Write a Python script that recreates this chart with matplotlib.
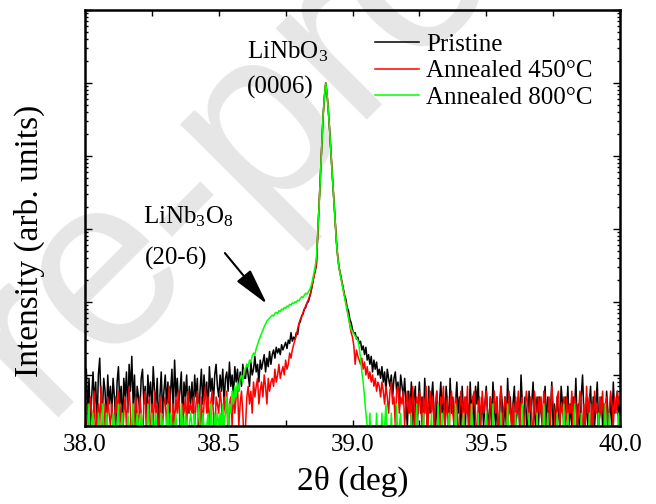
import numpy as np
import matplotlib
matplotlib.use("Agg")
import matplotlib.pyplot as plt
from matplotlib.ticker import MultipleLocator, LogLocator, NullFormatter

# scan grid: 2theta from 38.0 to 40.0 deg, 0.005 deg steps (401 points)
two_theta = np.linspace(38.0, 40.0, 401)

pristine = [
    6, 12, 3, 9, 2, 5, 11, 4, 8, 2, 10, 17, 4, 3, 9, 6, 2, 10, 4, 7,
    3, 9, 5, 2, 8, 13, 4, 7, 2, 9, 5, 11, 3, 14, 6, 18, 4, 10, 2, 7,
    5, 3, 9, 12, 4, 7, 2, 10, 5, 8, 3, 13, 6, 4, 9, 2, 5, 11, 3, 6,
    10, 4, 8, 2, 6, 12, 3, 16, 5, 9, 4, 6, 11, 2, 8, 5, 10, 3, 7, 4,
    8, 3, 10, 5, 9, 2, 6, 12, 4, 10, 5, 8, 3, 13, 6, 9, 4, 10, 14, 7,
    5, 10, 6, 12, 4, 9, 11, 6, 15, 7, 10, 5, 13, 8, 12, 6, 11, 7, 14, 9,
    9, 14, 10, 7, 15, 10, 12, 18, 11, 14, 8, 16, 12, 15, 19, 11, 17, 13, 21, 14,
    19, 22, 17, 24, 20, 23, 19, 26, 22, 25, 28, 23, 30, 27, 38, 29, 33, 31, 38, 36,
    50, 54, 65, 68, 80, 84, 97, 101, 118, 138, 172, 218, 260, 320, 813, 1950, 5250, 12900, 34700, 64600,
    100000, 69200, 39800, 20900, 10000, 5010, 2630, 1320, 661, 407, 295, 240, 195, 158, 125, 110, 84, 76, 58, 52,
    42, 37, 38, 31, 33, 27, 29, 22, 25, 19, 24, 16, 19, 14, 18, 11, 16, 12, 15, 10,
    12, 9, 13, 8, 11, 6, 12, 9, 7, 10, 5, 9, 11, 6, 8, 4, 10, 7, 5, 9,
    4, 2, 6, 3, 8, 2, 5, 7, 1, 4, 8, 3, 5, 2, 9, 4, 2, 7, 3, 5,
    8, 3, 2, 6, 1, 4, 8, 3, 5, 2, 7, 4, 2, 9, 3, 5, 2, 4, 8, 3,
    5, 2, 7, 3, 1, 5, 4, 2, 8, 3, 5, 2, 7, 4, 8, 2, 3, 5, 2, 4,
    7, 3, 2, 5, 2, 8, 4, 2, 5, 1, 3, 7, 4, 2, 5, 2, 9, 3, 5, 2,
    4, 7, 2, 3, 5, 2, 10, 4, 2, 5, 3, 1, 6, 2, 4, 8, 3, 2, 5, 2,
    5, 3, 2, 4, 7, 2, 5, 1, 3, 8, 2, 4, 2, 5, 3, 2, 7, 4, 2, 5,
    3, 7, 2, 4, 2, 5, 3, 9, 2, 4, 1, 5, 10, 3, 2, 5, 2, 4, 7, 2,
    5, 2, 4, 8, 2, 3, 5, 2, 4, 2, 6, 3, 2, 5, 2, 8, 3, 4, 6, 2,
    5,
]

annealed_450 = [
    3, 1, 4, 2, 5, 3, 2, 6, 1, 3, 4, 2, 7, 3, 1, 4, 2, 5, 3, 2,
    4, 2, 1, 5, 3, 6, 2, 4, 1, 3, 5, 2, 4, 7, 3, 1, 4, 2, 5, 3,
    2, 5, 3, 1, 4, 6, 2, 3, 5, 1, 4, 2, 6, 3, 4, 1, 5, 3, 2, 4,
    5, 2, 4, 7, 3, 1, 4, 2, 5, 3, 6, 2, 1, 4, 3, 5, 2, 6, 3, 4,
    3, 5, 2, 4, 6, 3, 1, 5, 2, 4, 7, 3, 5, 2, 4, 6, 3, 1, 5, 4,
    3, 6, 4, 2, 5, 3, 6, 1, 4, 5, 2, 6, 3, 5, 7, 2, 4, 6, 3, 1,
    2, 5, 7, 4, 6, 3, 8, 5, 7, 9, 4, 6, 8, 5, 10, 7, 4, 9, 6, 8,
    9, 7, 12, 8, 10, 14, 9, 11, 13, 10, 16, 12, 14, 20, 17, 22, 26, 30, 35, 43,
    51, 58, 62, 72, 80, 88, 97, 108, 120, 142, 176, 222, 268, 330, 840, 2000, 5300, 13000, 35000, 65000,
    100000, 70000, 40500, 21500, 10300, 5200, 2700, 1350, 670, 410, 290, 232, 186, 150, 122, 98, 79, 62, 48, 38,
    33, 25, 14, 22, 18, 16, 14, 17, 12, 15, 10, 13, 9, 11, 8, 10, 7, 9, 6, 8,
    7, 5, 8, 6, 4, 7, 5, 3, 6, 8, 4, 5, 2, 6, 7, 3, 5, 4, 6, 2,
    4, 6, 3, 5, 2, 7, 4, 1, 5, 3, 6, 4, 2, 5, 3, 7, 1, 4, 6, 3,
    5, 2, 4, 6, 3, 1, 5, 4, 7, 2, 3, 5, 1, 4, 6, 3, 2, 5, 4, 1,
    3, 6, 4, 2, 5, 3, 7, 1, 4, 2, 5, 6, 3, 1, 4, 5, 2, 6, 3, 4,
    6, 3, 1, 5, 4, 2, 6, 3, 5, 1, 4, 7, 2, 3, 5, 4, 1, 6, 3, 2,
    4, 1, 5, 3, 6, 2, 4, 5, 1, 3, 6, 4, 2, 5, 3, 1, 6, 4, 2, 5,
    3, 5, 2, 6, 4, 1, 3, 5, 2, 7, 4, 3, 1, 5, 6, 2, 4, 3, 5, 1,
    5, 2, 4, 3, 6, 1, 5, 4, 2, 3, 6, 5, 1, 4, 2, 7, 3, 5, 1, 4,
    2, 6, 3, 4, 1, 5, 3, 6, 2, 4, 5, 1, 3, 6, 4, 2, 5, 3, 6, 4,
    5,
]

annealed_800 = [
    3, 1, 2, 4, 1, 2, 3, 1, 2, 1, 3, 2, 1, 4, 2, 1, 3, 2, 1, 2,
    1, 3, 2, 1, 2, 4, 1, 2, 3, 1, 2, 1, 3, 2, 1, 2, 4, 1, 2, 3,
    2, 1, 3, 2, 1, 2, 1, 4, 2, 1, 3, 1, 2, 3, 1, 2, 1, 3, 2, 1,
    1, 2, 4, 1, 3, 2, 1, 2, 3, 1, 2, 1, 4, 2, 1, 3, 2, 1, 2, 3,
    2, 1, 3, 1, 2, 4, 2, 1, 3, 2, 1, 2, 3, 1, 4, 2, 1, 3, 2, 3,
    2, 3, 1, 4, 2, 3, 5, 2, 4, 3, 6, 4, 7, 5, 8, 6, 9, 10, 8, 12,
    12, 14, 13, 16, 15, 18, 20, 19, 23, 26, 30, 33, 37, 41, 46, 50, 55, 57, 60, 63,
    66, 64, 70, 72, 69, 76, 74, 80, 78, 84, 82, 88, 86, 93, 90, 97, 95, 101, 99, 106,
    104, 112, 118, 115, 124, 132, 128, 138, 148, 165, 195, 240, 300, 400, 890, 2000, 5300, 13000, 35000, 66000,
    100000, 70000, 40000, 21000, 10000, 5000, 2600, 1300, 650, 400, 285, 228, 182, 146, 116, 94, 76, 62, 50, 42,
    40, 37, 34, 32, 30, 24, 17, 11, 8, 5, 3, 2, 1, 3, 1, 2, 1, 1, 3, 1,
    2, 1, 3, 1, 2, 4, 1, 2, 1, 3, 1, 2, 1, 4, 1, 2, 3, 1, 2, 1,
    1, 2, 1, 1, 3, 1, 2, 1, 4, 1, 1, 2, 1, 3, 1, 1, 2, 1, 1, 3,
    1, 1, 2, 1, 4, 1, 1, 3, 1, 2, 1, 1, 3, 1, 1, 2, 1, 4, 1, 1,
    2, 1, 1, 3, 1, 1, 2, 1, 1, 4, 1, 2, 1, 1, 3, 1, 1, 2, 1, 1,
    3, 1, 1, 2, 1, 4, 1, 1, 2, 1, 1, 3, 1, 2, 1, 1, 4, 1, 1, 2,
    1, 1, 3, 1, 2, 1, 1, 4, 1, 1, 2, 1, 3, 1, 1, 2, 1, 1, 3, 1,
    2, 1, 1, 4, 1, 1, 3, 1, 2, 1, 1, 2, 1, 3, 1, 1, 2, 1, 4, 1,
    1, 3, 1, 1, 2, 1, 4, 1, 1, 2, 1, 3, 1, 1, 2, 1, 1, 3, 1, 2,
    1, 1, 2, 1, 3, 1, 1, 2, 1, 4, 1, 1, 3, 1, 2, 1, 1, 2, 1, 3,
    1,
]

series_labels = ["Pristine", "Annealed 450\u00b0C", "Annealed 800\u00b0C"]
series_colors = ["#000000", "#ff0000", "#00ff00"]
x_ticks = [38.0, 38.5, 39.0, 39.5, 40.0]
x_tick_labels = ["38.0", "38.5", "39.0", "39.5", "40.0"]

plt.rcParams["font.family"] = ["Liberation Serif", "DejaVu Serif"]
plt.rcParams["mathtext.fontset"] = "custom"
plt.rcParams["mathtext.rm"] = "Liberation Serif"
plt.rcParams["mathtext.it"] = "Liberation Serif:italic"

fig = plt.figure(figsize=(6.56, 5.04), dpi=100)
ax = fig.add_axes([85 / 656, 1 - 426 / 504, 535 / 656, 416 / 504])
ax.set_facecolor("none")

# watermark
wm_x, wm_y = 200 / 656, 1 - 276 / 504
fig.text(wm_x, wm_y, "Journal Pre", rotation=45, rotation_mode="anchor",
         ha="right", va="baseline", fontsize=175, color="#e6e6e6",
         family="Liberation Sans", zorder=-5)
fig.text(wm_x, wm_y, "-proof", rotation=45, rotation_mode="anchor",
         ha="left", va="baseline", fontsize=175, color="#e6e6e6",
         family="Liberation Sans", zorder=-5)

for data, lab, col in zip([pristine, annealed_450, annealed_800], series_labels, series_colors):
    ax.plot(two_theta, data, color=col, lw=1.1, label=lab)

ax.set_yscale("log")
ax.set_xlim(38.0, 40.0)
ax.set_ylim(2, 1e6)

ax.set_xticks(x_ticks)
ax.set_xticklabels(x_tick_labels)
ax.xaxis.set_minor_locator(MultipleLocator(0.25))
ax.yaxis.set_major_locator(LogLocator(base=10, numticks=20))
ax.yaxis.set_minor_locator(LogLocator(base=10, subs=np.arange(2, 10), numticks=20))
ax.yaxis.set_major_formatter(NullFormatter())
ax.yaxis.set_minor_formatter(NullFormatter())

ax.tick_params(axis="both", which="both", direction="in", top=True, right=True, width=1.0)
ax.tick_params(axis="x", which="both", length=4, labelsize=18, pad=6)
ax.tick_params(axis="y", which="major", length=5)
ax.tick_params(axis="y", which="minor", length=2.5)
for sp in ax.spines.values():
    sp.set_linewidth(1.8)

ax.set_xlabel("2\u03b8 (deg)", fontsize=24)
ax.xaxis.set_label_coords(0.5, -0.095)
ax.xaxis.label.set_va("top")
ax.set_ylabel("Intensity (arb. units)", fontsize=24)
ax.yaxis.set_label_coords(-0.075, 0.445)

leg = ax.legend(loc="upper left", bbox_to_anchor=(0.542, 0.943), frameon=False,
                fontsize=18, handlelength=1.76, handletextpad=0.3, labelspacing=0.15,
                borderpad=0, borderaxespad=0)

ax.text(38.606, 2.19e5, "LiNbO$_3$", fontsize=18, ha="left", va="baseline")
ax.text(38.606, 7.1e4, "(0006)", fontsize=18, ha="left", va="baseline")
ax.text(38.217, 1175, "LiNb$_3$O$_8$", fontsize=18, ha="left", va="baseline")
ax.text(38.222, 324, "(20-6)", fontsize=18, ha="left", va="baseline")
ax.annotate("", xy=(38.680, 94), xytext=(38.523, 468),
            arrowprops=dict(arrowstyle="-|>,head_length=0.9,head_width=0.22",
                            color="black", lw=1.5, mutation_scale=25,
                            shrinkA=0, shrinkB=0))

fig.savefig("out.png", dpi=100)
